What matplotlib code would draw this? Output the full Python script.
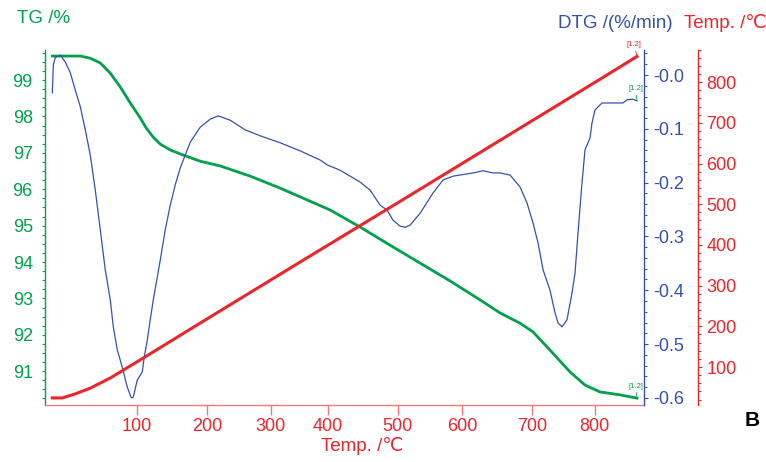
import numpy as np
import matplotlib
matplotlib.use('Agg')
import matplotlib.pyplot as plt
from matplotlib.ticker import MultipleLocator, FixedLocator, FuncFormatter

# TG curve: time (min) vs residual mass (%)
tg_time = [0, 4.07, 5.52, 6.98, 8.43, 9.88, 11.34, 12.79, 13.66, 14.68, 15.70, 17.15,
           18.60, 21.51, 24.42, 28.78, 33.14, 36.05, 40.41, 44.77, 49.85, 53.49, 57.85,
           62.21, 65.12, 68.02, 69.91, 72.38, 75.29, 77.47, 79.65, 82.56, 85.03]
tg_mass = [99.66, 99.66, 99.60, 99.47, 99.19, 98.81, 98.37, 97.96, 97.68, 97.43, 97.24, 97.08,
           96.97, 96.77, 96.64, 96.36, 96.03, 95.79, 95.43, 94.96, 94.38, 93.97, 93.48,
           92.96, 92.60, 92.32, 92.08, 91.58, 90.98, 90.62, 90.43, 90.35, 90.26]

# DTG curve: time (min) vs mass loss rate (%/min)
dtg_time = [0, 0.15, 0.44, 1.16, 1.89, 2.62, 3.34, 4.07, 4.80, 5.52, 6.25, 6.98,
            7.70, 8.43, 8.87, 9.45, 10.17, 10.90, 11.48, 11.77, 12.35, 13.08, 13.37,
            13.81, 14.24, 14.68, 15.70, 16.42, 17.15, 17.88, 18.60, 20.06, 21.51,
            22.97, 24.13, 25.87, 28.05, 30.23, 33.14, 36.05, 38.95, 39.97, 41.86,
            44.77, 46.22, 47.67, 48.69, 49.56, 50.58, 51.31, 52.03, 53.49, 55.38,
            56.83, 58.28, 61.19, 62.65, 64.10, 65.12, 66.57, 68.02, 69.04, 69.91,
            70.64, 71.37, 72.38, 73.11, 73.55, 74.13, 74.85, 75.58, 76.02, 76.45,
            77.03, 77.47, 78.20, 78.49, 78.92, 79.94, 81.54, 82.99, 83.58, 84.45, 85.03]
dtg_rate = [-0.033, 0.019, 0.033, 0.037, 0.024, 0.004, -0.028, -0.059, -0.102, -0.149,
            -0.214, -0.288, -0.362, -0.418, -0.468, -0.511, -0.543, -0.580, -0.600,
            -0.599, -0.567, -0.552, -0.524, -0.493, -0.455, -0.418, -0.344, -0.288,
            -0.242, -0.204, -0.173, -0.125, -0.097, -0.082, -0.076, -0.084, -0.102,
            -0.113, -0.126, -0.141, -0.158, -0.167, -0.177, -0.199, -0.214, -0.242,
            -0.251, -0.270, -0.281, -0.283, -0.279, -0.257, -0.219, -0.195, -0.188,
            -0.182, -0.178, -0.182, -0.182, -0.186, -0.208, -0.238, -0.275, -0.312,
            -0.362, -0.400, -0.442, -0.461, -0.468, -0.455, -0.405, -0.368, -0.294,
            -0.201, -0.139, -0.117, -0.089, -0.065, -0.052, -0.052, -0.052, -0.046,
            -0.045, -0.048]

# furnace temperature program
temp_time = [0, 1.45, 3.34, 5.52, 8.43, 12.35, 21.51, 36.05, 50.58, 65.12, 79.65, 85.03]
temp_val = [24, 24, 34, 48, 73, 113, 208, 358, 507, 657, 807, 863]

# sample temperature labels on the bottom axis and where they fall in time
xtick_temp = [100, 200, 300, 400, 500, 600, 700, 800]
xtick_time = [12.31, 22.53, 31.79, 40.12, 50.25, 59.59, 69.72, 78.88]

tg_ticks = [91, 92, 93, 94, 95, 96, 97, 98, 99]
dtg_ticks = [-0.6, -0.5, -0.4, -0.3, -0.2, -0.1, 0.0]
temp_ticks = [100, 200, 300, 400, 500, 600, 700, 800]

GREEN = '#00a04c'
BLUE = '#3552a8'
RED = '#e8262c'
RED_PALE = '#f07a7a'

plt.rcParams['font.family'] = ['Liberation Sans', 'DejaVu Sans']
plt.rcParams['axes.unicode_minus'] = False

W, H = 766, 462
fig = plt.figure(figsize=(W / 100, H / 100), dpi=100)
x0, x1, y0, y1 = 45.3, 644.0, 49.5, 404.5
ax = fig.add_axes([x0 / W, 1 - y1 / H, (x1 - x0) / W, (y1 - y0) / H])

ax.plot(tg_time, tg_mass, color=GREEN, lw=2.0, solid_joinstyle='round')
ax.set_xlim(-1.02, 86.05)
ax.set_ylim(90.085, 99.84)

ax2 = ax.twinx()
ax2.plot(dtg_time, dtg_rate, color=BLUE, lw=0.9)
ax2.set_ylim(-0.6124, 0.0474)

ax3 = ax.twinx()
ax3.plot(temp_time, temp_val, color=RED, lw=2.2, solid_joinstyle='round')
ax3.set_ylim(7.9, 880.1)
ax3.spines['right'].set_position(('axes', (697.5 - x0) / (x1 - x0)))

for a in (ax, ax2, ax3):
    a.spines['top'].set_visible(False)
ax.spines['right'].set_visible(False)
for a in (ax2, ax3):
    a.spines['left'].set_visible(False)
    a.spines['bottom'].set_visible(False)
ax.spines['left'].set_color(GREEN)
ax.spines['bottom'].set_color(RED_PALE)
ax2.spines['right'].set_color(BLUE)
ax3.spines['right'].set_color(RED)
for s in (ax.spines['left'], ax.spines['bottom'], ax2.spines['right'], ax3.spines['right']):
    s.set_linewidth(1.0)

LABEL_SIZE = 13

# TG axis
ax.yaxis.set_major_locator(FixedLocator(tg_ticks))
ax.yaxis.set_minor_locator(MultipleLocator(0.25))
ax.tick_params(axis='y', which='both', direction='out', colors=GREEN,
               length=2, width=0.8, labelsize=LABEL_SIZE, pad=7)

# bottom temperature axis
ax.set_xticks(xtick_time)
ax.set_xticklabels([str(v) for v in xtick_temp])
ax.tick_params(axis='x', which='major', direction='out', color=RED_PALE,
               labelcolor=RED, length=7, width=1, labelsize=LABEL_SIZE, pad=2.5)

# DTG axis
ax2.yaxis.set_major_locator(FixedLocator(dtg_ticks))
ax2.yaxis.set_minor_locator(MultipleLocator(0.02))
ax2.yaxis.set_major_formatter(FuncFormatter(lambda v, p: '-%.1f' % abs(v)))
ax2.tick_params(axis='y', which='major', direction='out', colors=BLUE,
                length=3, width=0.8, labelsize=LABEL_SIZE, pad=3.5)
ax2.tick_params(axis='y', which='minor', direction='out', colors=BLUE,
                length=2, width=0.7)

# temperature program axis
ax3.yaxis.set_major_locator(FixedLocator(temp_ticks))
ax3.yaxis.set_minor_locator(MultipleLocator(20))
ax3.tick_params(axis='y', which='major', direction='out', colors=RED,
                length=3, width=0.8, labelsize=LABEL_SIZE, pad=3.5)
ax3.tick_params(axis='y', which='minor', direction='out', colors=RED,
                length=2, width=0.7)

# segment markers at the curve ends
def seg_label(a, x, y, color, dx, dy):
    a.annotate('[1.2]', xy=(x, y), xytext=(dx, dy), textcoords='offset points',
               fontsize=5.5, color=color, ha='center', va='bottom',
               arrowprops=dict(arrowstyle='-', color=color, lw=0.6,
                               shrinkA=0, shrinkB=0))

seg_label(ax3, temp_time[-1], temp_val[-1], RED, -2, 6)
seg_label(ax2, dtg_time[-1], dtg_rate[-1], GREEN, -1, 6)
seg_label(ax, tg_time[-1], tg_mass[-1], GREEN, -1, 6)

# axis titles
fig.text(17 / W, 1 - 18.5 / H, 'TG /%', color=GREEN, fontsize=13.5,
         ha='left', va='center')
fig.text(673 / W, 1 - 23 / H, 'DTG /(%/min)', color=BLUE, fontsize=13.5,
         ha='right', va='center')
fig.text(684 / W, 1 - 23 / H, 'Temp. /\u2103', color=RED, fontsize=13.5,
         ha='left', va='center')
fig.text(362.5 / W, 1 - 446 / H, 'Temp. /\u2103', color=RED, fontsize=13.5,
         ha='center', va='center')
fig.text(752 / W, 1 - 420 / H, 'B', color='black', fontsize=15,
         fontweight='bold', ha='center', va='center')

fig.savefig('out.png', dpi=100)
